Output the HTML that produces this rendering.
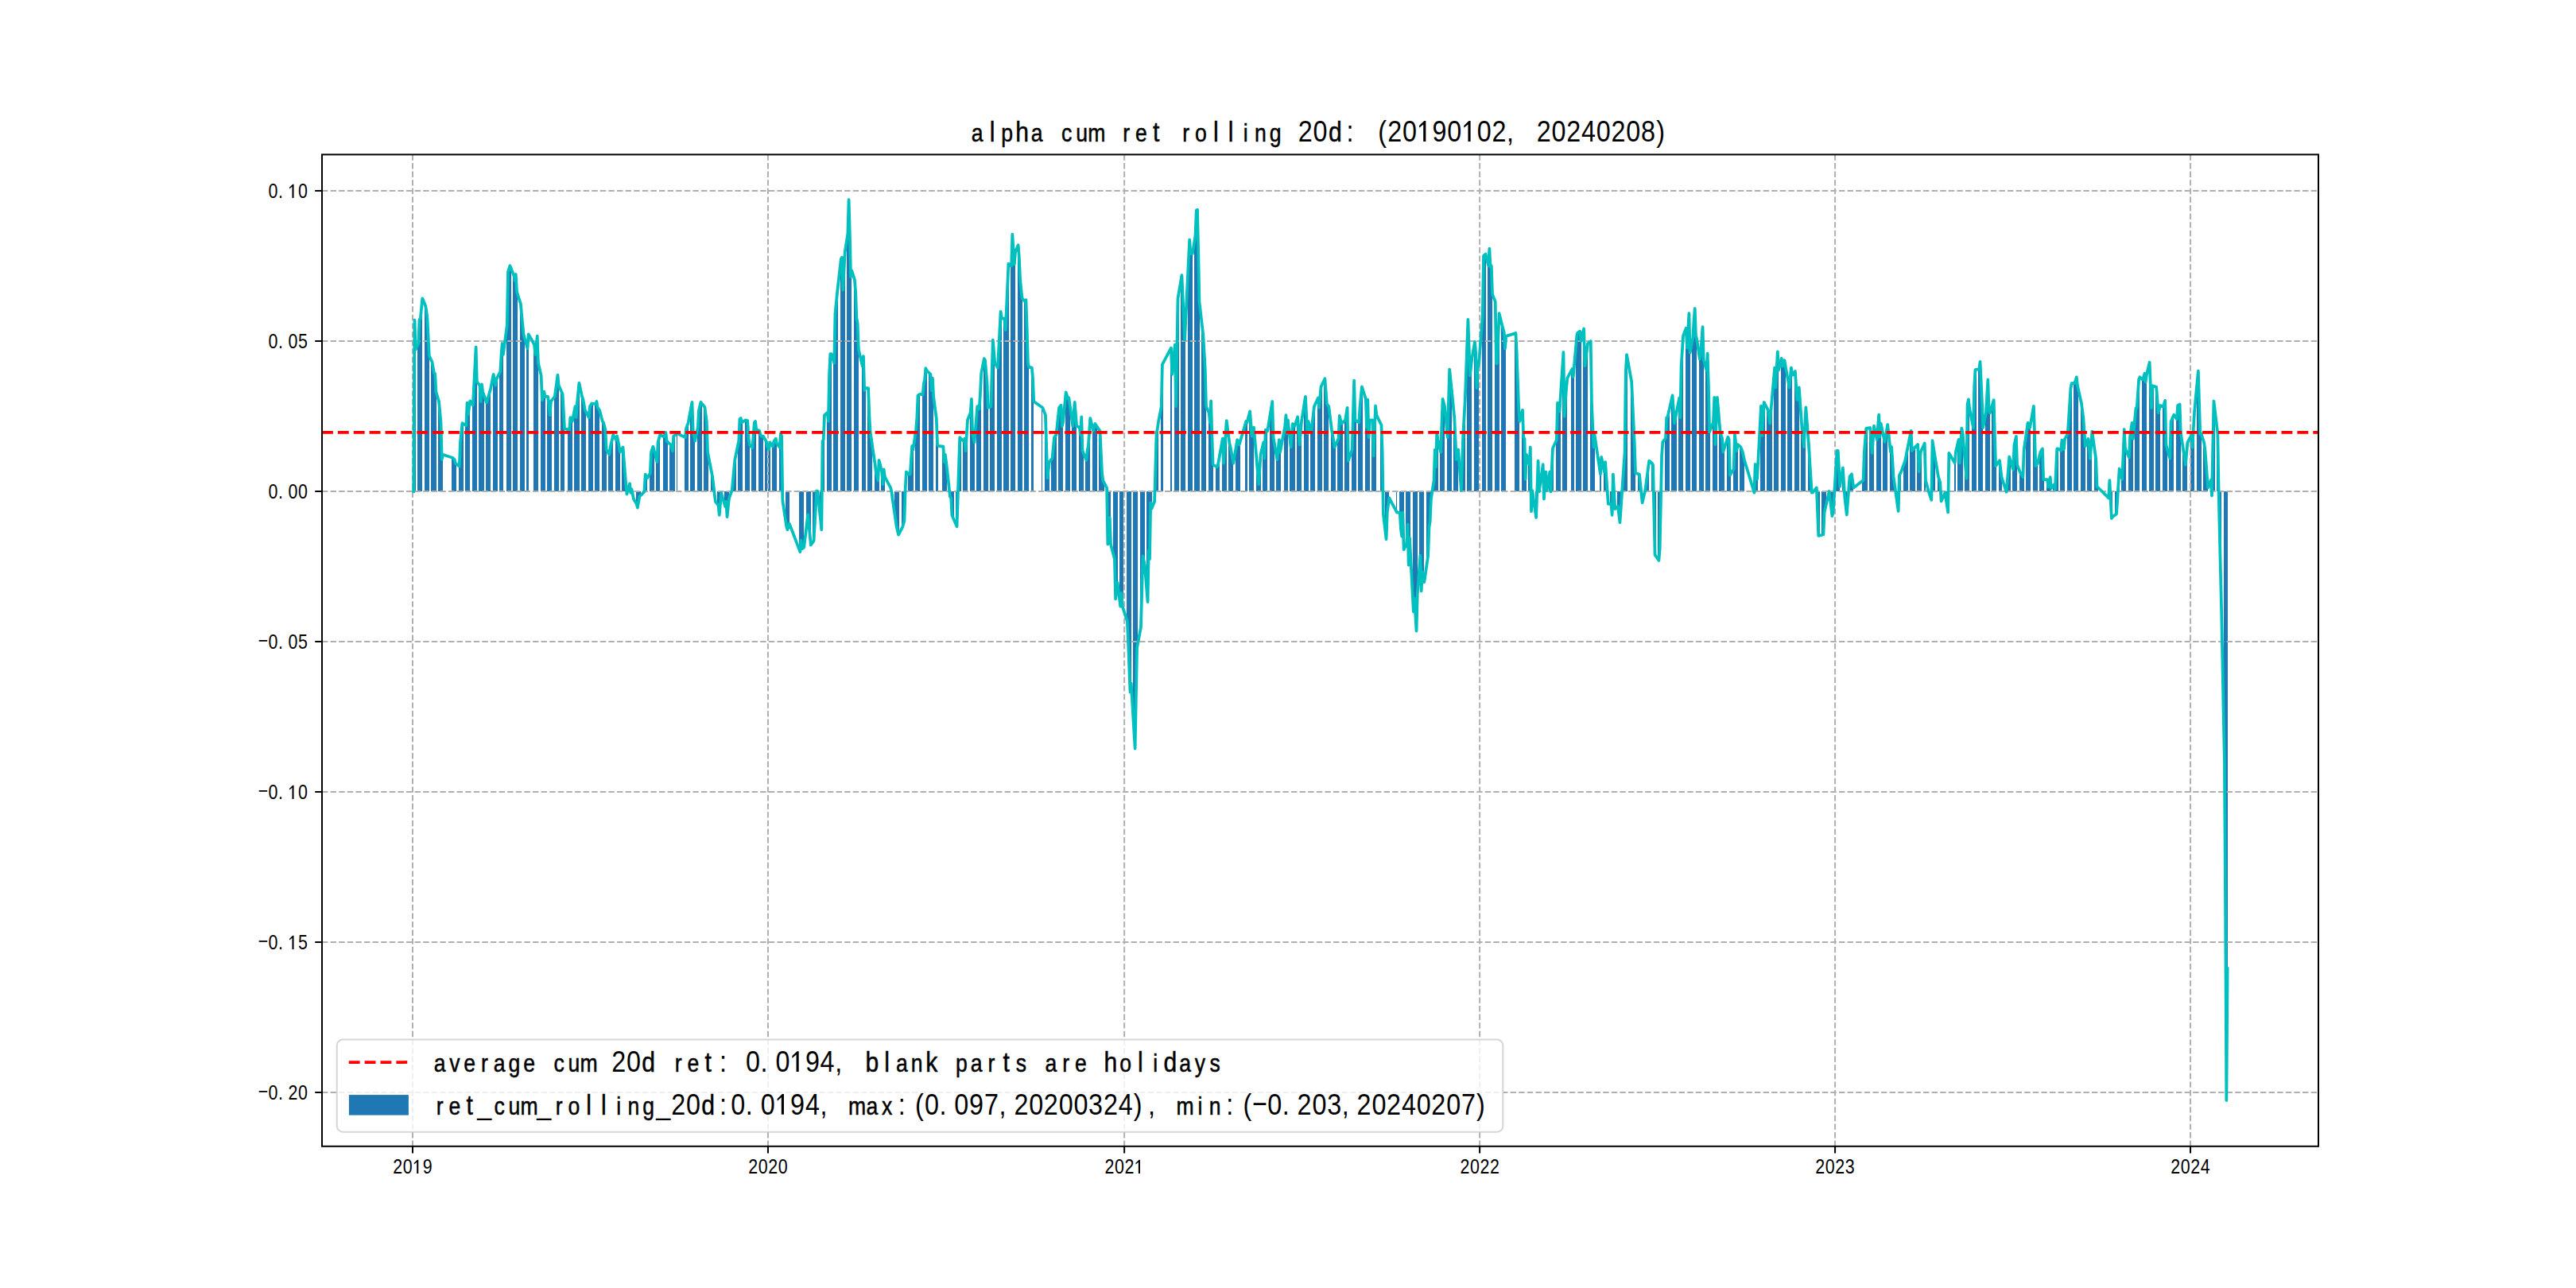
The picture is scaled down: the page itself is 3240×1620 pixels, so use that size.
<!DOCTYPE html><html><head><meta charset="utf-8"><style>html,body{margin:0;padding:0;background:#fff;overflow:hidden}svg{display:block}text{font-family:"Liberation Sans",sans-serif;fill:#000}</style></head><body>
<svg width="3240" height="1620" viewBox="0 0 3240 1620">
<rect width="3240" height="1620" fill="#fff"/>
<path d="M519 618.0V618.0H520.34V402.5H521.56V439.8H523V618.0ZM525 618.0V432.0H526.46V401.7H527.68V400.9H528.91V388.1H530.13V375.3H531V618.0ZM534 618.0V383.9H535.03V390.1H536.26V399.4H537.48V423.4H538.71V447.5H540V618.0ZM542 618.0V455.3H543.60V462.3H544.83V469.3H546.05V470.0H547.28V492.5H549V618.0ZM551 618.0V505.0H552.18V518.2H553.40V531.4H554.62V578.0H555.85V571.8H557V618.0ZM568 618.0V575.7H569.32V576.9H570.54V578.0H571.77V582.7H572.99V583.7H574V618.0ZM577 618.0V586.6H577.89V556.3H579.12V544.2H580.34V532.2H581.56V533.0H583V618.0ZM585 618.0V535.3H586.46V506.6H587.69V521.3H588.91V512.8H590.14V504.3H591V618.0ZM594 618.0V509.7H595.04V485.3H596.26V461.0H597.48V436.6H598.71V480.2H600V618.0ZM602 618.0V484.8H603.61V505.0H604.83V483.3H606.06V492.6H607.28V496.1H609V618.0ZM611 618.0V506.6H612.18V502.3H613.40V498.1H614.63V493.8H615.85V489.5H617V618.0ZM620 618.0V470.9H620.75V477.8H621.98V484.8H623.20V477.1H624.42V474.7H626V618.0ZM628 618.0V467.7H629.32V447.5H630.55V432.0H631.77V446.0H633V618.0ZM637 618.0V408.7H637.89V341.9H639.12V338.0H640.34V334.2H641.57V337.3H643V618.0ZM645 618.0V346.6H646.47V352.8H647.69V345.0H648.92V366.8H650.14V370.7H651V618.0ZM654 618.0V382.3H655.04V396.3H656.26V408.7H657.49V421.1H658.71V425.4H660V618.0ZM662 618.0V438.2H663.61V420.3H665V618.0ZM671 618.0V433.5H672.18V446.0H673.41V434.4H674.63V422.7H675.86V456.8H677V618.0ZM680 618.0V472.4H680.75V503.5H681.98V498.1H683.20V492.6H684.43V498.8H686V618.0ZM688 618.0V498.8H689.33V510.5H690.55V522.1H691.78V505.0H693.00V503.4H694V618.0ZM697 618.0V498.8H697.90V489.7H699.12V480.7H700.35V471.6H701.57V484.8H703V618.0ZM705 618.0V493.0H706.47V495.7H707.69V517.5H708.92V539.2H710V618.0ZM714 618.0V540.4H715.04V540.7H716.27V525.2H717.49V527.5H718.72V529.9H720V618.0ZM722 618.0V511.2H723.61V525.2H724.84V506.6H726.06V494.1H727.29V481.7H729V618.0ZM731 618.0V498.8H732.19V501.9H733.41V508.9H734.63V515.9H735.86V518.2H737V618.0ZM740 618.0V525.2H740.76V511.2H741.98V509.3H743.21V507.4H744.43V507.6H746V618.0ZM748 618.0V508.1H749.33V505.0H750.55V512.8H751.78V514.3H753.00V515.9H754V618.0ZM757 618.0V529.9H757.90V531.4H759.13V536.0H760.35V540.7H761.58V565.6H763V618.0ZM765 618.0V571.8H766.47V562.5H767.70V557.3H768.92V552.2H770.15V547.0H771V618.0ZM774 618.0V553.2H775.05V548.5H776.27V554.7H777.49V560.9H778.72V568.7H780V618.0ZM782 618.0V562.5H783.62V578.0H784.84V593.5H786.07V607.5H787.29V621.5H789V618.0ZM791 618.0V608.3H792.19V619.9H793.41V615.3H794.64V621.5H795.86V627.7H797V618.0ZM800 618.0V633.9H800.76V638.6H801.99V631.6H803.21V624.6H804.43V623.4H806V618.0ZM808 618.0V619.6H809.33V618.4H810.56V596.6H811.78V599.0H813.01V601.3H814V618.0ZM817 618.0V595.1H817.90V568.7H819.13V565.2H820.35V561.7H821.58V566.6H823V618.0ZM825 618.0V581.1H826.48V556.3H827.70V551.7H828.93V547.0H830V618.0ZM834 618.0V549.3H835.05V546.6H836.27V543.9H837.50V554.7H838.72V555.9H840V618.0ZM842 618.0V559.4H843.62V563.2H844.85V567.1H846.07V548.5H847.29V547.7H849V618.0ZM851 618.0V545.4H852V618.0ZM861 618.0V550.1H861.99V538.4H863.21V535.3H864.44V532.2H866V618.0ZM868 618.0V512.4H869.34V505.8H870.56V540.7H871.79V547.7H873.01V554.7H874V618.0ZM877 618.0V537.6H877.91V515.9H879.13V510.8H880.36V505.8H881.58V507.4H883V618.0ZM885 618.0V512.0H886.48V521.0H887.70V529.9H888.93V568.7H890.15V574.9H891V618.0ZM894 618.0V593.6H895.05V599.8H896.28V610.1H897.50V620.5H898.73V630.8H900V618.0ZM902 618.0V635.5H903.62V647.9H904.85V633.9H906.07V620.0H907.30V624.3H909V618.0ZM911 618.0V637.0H912.20V630.8H913.42V650.2H914.65V638.6H915.87V626.9H917V618.0ZM920 618.0V616.8H920.77V603.9H921.99V590.9H923.22V578.0H924.44V572.2H926V618.0ZM928 618.0V554.7H929.34V526.8H930.56V526.0H931.79V531.4H933.01V530.6H934V618.0ZM937 618.0V528.3H937.91V528.7H939.14V529.1H940.36V550.1H941.59V559.4H943V618.0ZM945 618.0V563.3H946.48V547.4H947.71V531.4H948.93V529.9H950.16V540.7H951V618.0ZM954 618.0V541.5H955.06V545.0H956.28V548.5H957.50V548.5H958.73V548.5H960V618.0ZM962 618.0V554.7H963.63V560.9H965V618.0ZM966 618.0V565.6H967.30V556.3H969V618.0ZM971 618.0V561.7H972.20V555.5H973.42V553.5H974.65V551.6H975.87V557.8H977V618.0ZM980 618.0V562.5H980.77V545.4H982.00V548.5H983.22V629.6H984.45V637.8H986V618.0ZM988 618.0V662.2H989.34V666.3H990.57V662.5H991.79V658.7H993V618.0ZM1005 618.0V694.2H1006.49V679.7H1007.71V690.2H1008.94V689.3H1010.16V688.4H1011V618.0ZM1014 618.0V657.4H1015.06V647.1H1016.28V659.9H1017.51V672.7H1018.73V685.5H1020V618.0ZM1022 618.0V680.3H1023.63V659.3H1024.86V638.4H1026.08V617.4H1027.30V618.0H1029V618.0ZM1031 618.0V654.2H1032.20V666.3H1033.43V554.7H1034.65V553.2H1035.88V522.1H1037V618.0ZM1040 618.0V519.0H1040.77V529.9H1042.00V470.0H1043.22V445.1H1044.45V445.1H1046V618.0ZM1048 618.0V456.8H1049.35V394.7H1050.57V382.0H1051.80V369.4H1053.02V358.5H1054V618.0ZM1057 618.0V325.8H1057.92V323.8H1059.14V364.6H1060.37V340.8H1061.59V317.0H1063V618.0ZM1065 618.0V293.7H1066.49V251.1H1067.72V293.7H1068.94V348.1H1070.16V340.3H1071V618.0ZM1074 618.0V352.0H1075.06V367.5H1076.29V400.5H1077.51V406.3H1078.74V439.3H1080V618.0ZM1084 618.0V460.7H1084.86V448.0H1086.08V491.1H1087.31V488.0H1089V618.0ZM1091 618.0V488.0H1092.21V522.1H1093.43V542.3H1094.66V550.9H1095.88V559.4H1097V618.0ZM1100 618.0V584.2H1100.78V595.1H1102.00V599.7H1103.23V604.4H1104.45V578.8H1106V618.0ZM1108 618.0V593.5H1109.35V609.1H1110.57V590.4H1111.80V599.8H1113V618.0ZM1119 618.0V613.7H1120.37V619.1H1121.60V628.4H1123V618.0ZM1125 618.0V653.8H1126.49V662.2H1127.72V667.4H1128.94V672.7H1130.17V670.4H1131V618.0ZM1134 618.0V663.4H1135.07V659.3H1136.29V655.2H1137.52V616.8H1138.74V593.5H1140V618.0ZM1142 618.0V596.6H1143.64V596.6H1144.86V578.7H1146.09V560.9H1147.31V565.6H1149V618.0ZM1151 618.0V540.7H1152.21V525.2H1153.43V497.3H1154.66V496.5H1155.88V495.7H1157V618.0ZM1160 618.0V496.5H1160.78V482.5H1162.01V477.1H1163.23V463.1H1164.46V466.2H1166V618.0ZM1168 618.0V469.7H1169.35V470.9H1170.58V491.1H1171.80V475.5H1173.03V498.8H1174V618.0ZM1177 618.0V526.8H1177.93V559.4H1179.15V560.9H1180V618.0ZM1185 618.0V561.7H1186.50V581.1H1187.72V571.8H1188.95V581.1H1190.17V591.2H1191V618.0ZM1194 618.0V624.9H1195.07V626.1H1196.29V648.2H1197.52V651.0H1198.74V653.8H1200V618.0ZM1202 618.0V662.2H1203.64V624.9H1204.87V587.5H1206.09V550.1H1207.32V551.6H1209V618.0ZM1211 618.0V554.7H1212.21V551.6H1213.44V567.1H1214.66V547.7H1215.89V528.3H1217V618.0ZM1220 618.0V519.0H1220.79V501.9H1222.01V545.4H1223.23V550.8H1224.46V556.3H1226V618.0ZM1228 618.0V511.2H1229.36V512.8H1230.58V514.3H1231.81V495.7H1233.03V470.0H1234V618.0ZM1237 618.0V451.0H1237.93V452.9H1239.15V467.4H1240.38V482.0H1241.60V512.8H1243V618.0ZM1245 618.0V511.2H1246.50V469.4H1247.73V427.7H1248.95V442.2H1250.17V456.8H1251V618.0ZM1254 618.0V462.6H1255.07V439.0H1256.30V415.4H1257.52V391.8H1258.75V400.5H1260V618.0ZM1262 618.0V400.5H1263.64V415.0H1264.87V387.2H1266.09V359.4H1267.32V331.6H1269V618.0ZM1271 618.0V334.5H1272.22V294.7H1273.44V313.6H1274.67V332.6H1275.89V317.0H1277V618.0ZM1280 618.0V308.3H1280.79V324.8H1282.01V352.0H1283.24V363.6H1284.46V375.3H1286V618.0ZM1288 618.0V379.1H1289.36V377.2H1290.59V414.1H1291.81V456.8H1293.03V461.6H1294V618.0ZM1297 618.0V462.6H1297.93V475.5H1299.16V505.0H1300V618.0ZM1310 618.0V512.8H1311V618.0ZM1314 618.0V522.1H1315.08V561.7H1316.30V601.3H1317.53V591.2H1318.75V581.1H1320V618.0ZM1322 618.0V576.5H1323.65V563.3H1324.87V550.1H1326.10V548.5H1327.32V547.0H1329V618.0ZM1331 618.0V512.8H1332.22V511.3H1333.44V509.7H1334.67V536.1H1335.89V531.4H1337V618.0ZM1340 618.0V493.4H1340.79V497.2H1342.02V501.1H1343.24V500.4H1344.47V509.3H1346V618.0ZM1348 618.0V536.1H1349.36V521.0H1350.59V505.8H1351.81V521.0H1353.04V536.1H1354V618.0ZM1357 618.0V537.6H1357.94V547.0H1359.16V524.4H1360.38V567.1H1361.61V570.0H1363V618.0ZM1365 618.0V578.8H1366.51V567.1H1367.73V560.9H1368.96V543.5H1370.18V526.0H1371V618.0ZM1374 618.0V541.5H1375.08V537.2H1376.30V533.0H1377.53V534.9H1378.75V536.7H1380V618.0ZM1382 618.0V542.3H1383.65V568.7H1384.88V593.5H1386.10V604.4H1387.33V606.7H1389V618.0ZM1391 618.0V613.7H1392.22V684.5H1393.45V667.8H1394.67V651.0H1395.90V684.5H1397V618.0ZM1400 618.0V698.4H1400.80V703.1H1402.02V753.4H1403.24V743.1H1404.47V732.9H1406V618.0ZM1408 618.0V762.7H1409.37V745.9H1410.59V762.7H1411.82V766.4H1413V618.0ZM1417 618.0V781.3H1417.94V807.4H1419.16V839.0H1420.39V870.7H1421.61V859.5H1423V618.0ZM1425 618.0V921.0H1426.51V941.5H1427.74V878.1H1428.96V814.8H1430.18V808.3H1431V618.0ZM1434 618.0V788.8H1435.08V744.1H1436.31V699.4H1437.53V705.0H1438.76V710.6H1440V618.0ZM1442 618.0V757.1H1443.66V691.9H1444.88V703.1H1446.10V632.3H1447.33V639.8H1449V618.0ZM1451 618.0V630.8H1452.23V588.1H1453.45V545.4H1454.68V539.2H1455.90V530.4H1457V618.0ZM1460 618.0V511.8H1460.80V458.4H1462.02V456.1H1463V618.0ZM1472 618.0V437.6H1473.04V470.8H1474V618.0ZM1477 618.0V433.5H1477.94V511.2H1479.17V443.2H1480.39V375.3H1481.62V368.0H1483V618.0ZM1485 618.0V346.2H1486.51V373.4H1487.74V400.5H1488.96V427.7H1490.19V402.5H1491V618.0ZM1494 618.0V326.7H1495.09V301.5H1496.31V319.0H1497.54V319.0H1498.76V319.0H1500V618.0ZM1502 618.0V295.7H1503.66V264.6H1504.88V263.7H1506.11V317.0H1507.33V379.1H1509V618.0ZM1511 618.0V411.1H1512.23V421.8H1513.46V443.3H1514.68V464.7H1515.90V511.2H1517V618.0ZM1520 618.0V519.3H1520.80V531.7H1522.03V504.3H1523.25V547.0H1524.48V584.2H1526V618.0ZM1529 618.0V587.3H1530.60V585.8H1531.82V579.0H1533.05V572.1H1534V618.0ZM1537 618.0V551.6H1537.95V582.7H1539.17V564.8H1540.40V547.0H1541.62V529.1H1543V618.0ZM1545 618.0V557.8H1546.52V562.5H1547.74V569.2H1548.97V576.0H1550.19V582.7H1551V618.0ZM1554 618.0V560.6H1555.09V553.2H1556.31V556.3H1557.54V559.4H1558.76V555.2H1560V618.0ZM1566 618.0V529.9H1567.34V531.4H1569V618.0ZM1571 618.0V517.5H1572.23V533.0H1573.46V548.5H1574.68V543.1H1575.91V537.6H1577V618.0ZM1580 618.0V579.6H1580.81V594.4H1582.03V609.1H1583.25V590.4H1584.48V571.8H1586V618.0ZM1588 618.0V556.3H1589.38V576.5H1590.60V540.7H1591.83V541.5H1593.05V542.3H1594V618.0ZM1597 618.0V519.9H1597.95V512.5H1599.17V505.0H1600.40V550.1H1601.62V557.1H1603V618.0ZM1605 618.0V578.0H1606.52V565.6H1607.75V553.2H1608.97V568.7H1610.20V562.2H1611V618.0ZM1615 618.0V536.1H1616.32V522.1H1617.54V545.4H1618.77V528.3H1620V618.0ZM1622 618.0V562.5H1623.67V547.7H1624.89V533.0H1626.11V534.6H1627.34V536.1H1629V618.0ZM1631 618.0V524.4H1632.24V541.9H1633.46V559.4H1634.69V544.7H1635.91V529.9H1637V618.0ZM1640 618.0V506.6H1640.81V498.8H1642.03V522.1H1643.26V545.4H1644.48V529.9H1646V618.0ZM1648 618.0V543.9H1649.38V533.0H1650.61V522.1H1651.83V511.2H1653.05V508.5H1654V618.0ZM1657 618.0V500.4H1657.95V512.8H1659.18V499.6H1660.40V486.4H1661.63V483.9H1663V618.0ZM1665 618.0V476.3H1666.53V492.2H1667.75V508.1H1668.97V509.7H1670.20V511.2H1671V618.0ZM1674 618.0V540.7H1675.10V548.0H1676.32V555.2H1677.55V562.5H1678.77V559.8H1680V618.0ZM1682 618.0V551.6H1683.67V522.9H1684.89V527.9H1686.12V533.0H1687.34V531.8H1689V618.0ZM1691 618.0V528.3H1692.24V520.5H1693.47V512.8H1694.69V579.6H1695.91V576.1H1697V618.0ZM1700 618.0V565.6H1700.81V522.1H1702.04V478.6H1703.26V528.3H1704.49V529.1H1706V618.0ZM1708 618.0V531.4H1709.38V511.2H1710.61V498.8H1711.83V486.4H1713.06V490.3H1714V618.0ZM1717 618.0V501.9H1717.96V537.6H1719.18V502.7H1720.41V550.1H1721.63V528.3H1723V618.0ZM1725 618.0V528.3H1726.53V573.4H1727.75V542.0H1728.98V510.5H1730.20V522.1H1731V618.0ZM1736 618.0V534.5H1737.55V568.7H1738.77V646.6H1740V618.0ZM1742 618.0V678.2H1743.67V644.7H1744.90V635.4H1746.12V626.1H1747V618.0ZM1756 618.0V644.7H1757V618.0ZM1760 618.0V644.7H1760.82V665.2H1762.04V674.5H1763.27V644.7H1764.49V691.3H1766V618.0ZM1768 618.0V683.8H1769.39V659.6H1770.61V710.8H1771.84V676.4H1773.06V699.7H1774V618.0ZM1777 618.0V769.5H1777.96V752.7H1779.18V773.2H1780.41V793.7H1781.63V747.1H1783V618.0ZM1785 618.0V698.7H1786.53V743.4H1787.76V719.2H1788.98V725.7H1790.21V732.2H1791V618.0ZM1794 618.0V707.1H1795.10V698.7H1796.33V663.3H1797.55V655.9H1798.78V627.9H1800V618.0ZM1802 618.0V604.4H1803.68V565.6H1804.90V587.3H1806.12V543.9H1807.35V553.2H1809V618.0ZM1811 618.0V568.7H1812.25V535.3H1813.47V501.9H1814.70V506.5H1815.92V511.2H1817V618.0ZM1820 618.0V550.1H1820.82V507.3H1822.04V464.5H1823.27V476.3H1824.49V488.0H1826V618.0ZM1828 618.0V525.2H1829.39V551.6H1830.62V578.0H1831.84V571.8H1833.07V565.6H1834V618.0ZM1837 618.0V616.8H1837.96V581.9H1839.19V547.0H1840.41V525.2H1841.64V503.5H1843V618.0ZM1845 618.0V401.9H1846.54V437.2H1847.76V472.5H1848.98V461.7H1850.21V450.8H1851V618.0ZM1854 618.0V429.8H1855.11V445.0H1856.33V488.0H1857.56V455.0H1858.78V460.1H1860V618.0ZM1864 618.0V396.5H1864.90V321.9H1866.13V320.7H1867.35V319.6H1869V618.0ZM1871 618.0V334.3H1872.25V312.6H1873.48V335.9H1874.70V334.3H1875.92V370.1H1877V618.0ZM1880 618.0V379.4H1880.82V457.0H1882.05V457.0H1883.27V425.5H1884.50V394.1H1886V618.0ZM1888 618.0V408.9H1889.39V413.5H1890.62V418.2H1891.84V438.4H1893.07V422.9H1894V618.0ZM1905 618.0V419.0H1906.54V443.0H1907.76V477.1H1908.99V511.2H1910.21V529.9H1911V618.0ZM1914 618.0V515.9H1915.11V550.1H1916.34V551.6H1917.56V602.9H1918.78V571.8H1920V618.0ZM1922 618.0V584.2H1923.68V562.5H1924.91V643.2H1926.13V616.8H1927.36V625.3H1929V618.0ZM1931 618.0V651.0H1932.25V615.3H1933.48V579.6H1934.70V618.4H1935.93V609.8H1937V618.0ZM1940 618.0V584.2H1940.83V627.7H1942.05V610.6H1943.28V593.5H1944.50V616.8H1946V618.0ZM1948 618.0V593.5H1949.40V618.4H1950.62V591.2H1951.85V564.0H1953.07V561.3H1954V618.0ZM1957 618.0V553.2H1957.97V506.6H1959.19V512.1H1960.42V517.5H1961.64V498.9H1963V618.0ZM1965 618.0V443.0H1966.54V523.7H1967.77V505.9H1968.99V488.0H1970.22V475.7H1971V618.0ZM1976 618.0V464.0H1977.56V474.1H1978.79V460.5H1980V618.0ZM1982 618.0V419.8H1983.69V418.2H1984.91V417.4H1986.14V416.6H1987.36V429.1H1989V618.0ZM1991 618.0V413.5H1992.26V460.1H1993.48V450.8H1994.71V441.5H1995.93V432.2H1997V618.0ZM2000 618.0V429.1H2000.83V506.6H2002.05V534.6H2003.28V562.5H2004.50V547.0H2006V618.0ZM2012 618.0V596.6H2013.08V574.9H2014V618.0ZM2017 618.0V593.5H2017.97V581.1H2019.20V598.7H2020.42V616.3H2021.65V633.9H2023V618.0ZM2025 618.0V633.9H2026.55V647.9H2027.77V596.6H2028.99V618.3H2030.22V640.1H2031V618.0ZM2034 618.0V637.0H2035.12V647.1H2036.34V657.2H2037.57V639.5H2038.79V621.8H2040V618.0ZM2042 618.0V568.7H2043.69V467.8H2044.91V446.1H2046.14V452.9H2047V618.0ZM2051 618.0V480.0H2052.26V506.5H2053.49V532.9H2054.71V559.4H2055.94V595.1H2057V618.0ZM2060 618.0V596.2H2060.83V596.6H2062.06V608.5H2063.28V620.5H2064.51V632.4H2066V618.0ZM2068 618.0V616.8H2069.41V607.5H2070.63V598.2H2071.85V588.9H2073.08V579.6H2074V618.0ZM2077 618.0V582.7H2077.98V585.0H2079.20V641.5H2080.43V698.0H2081.65V699.7H2083V618.0ZM2085 618.0V704.9H2086.55V690.0H2087.77V632.0H2089.00V573.0H2090.22V555.9H2091V618.0ZM2094 618.0V551.0H2095.12V525.4H2096.35V524.6H2097.57V519.2H2098.79V513.7H2100V618.0ZM2102 618.0V497.4H2103.69V514.9H2104.92V532.4H2106.14V526.0H2107.37V519.6H2109V618.0ZM2111 618.0V500.5H2112.26V525.4H2113.49V460.9H2114.71V441.5H2115.94V422.1H2117V618.0ZM2120 618.0V412.8H2120.84V437.6H2122.06V415.9H2123.29V394.2H2124.51V443.9H2126V618.0ZM2128 618.0V425.2H2129.41V403.5H2130.63V388.0H2131.86V422.1H2133.08V426.8H2134V618.0ZM2137 618.0V451.6H2137.98V443.9H2139.21V427.6H2140.43V411.2H2141.65V453.2H2143V618.0ZM2145 618.0V465.6H2146.55V444.6H2147.78V484.2H2149.00V543.2H2150.23V540.1H2151V618.0ZM2154 618.0V530.8H2155.12V499.8H2156.35V559.0H2157.57V529.4H2158.80V499.8H2160V618.0ZM2162 618.0V543.5H2163.70V547.3H2164.92V551.0H2166.15V568.3H2167.37V564.6H2169V618.0ZM2172 618.0V549.7H2173.49V552.8H2174.72V597.8H2175.94V595.9H2177V618.0ZM2180 618.0V590.1H2180.84V546.6H2182.06V556.7H2183.29V566.8H2184.51V559.0H2186V618.0ZM2188 618.0V562.1H2189.41V565.2H2190.64V568.3H2191.86V573.8H2193.09V579.2H2194V618.0ZM2205 618.0V619.6H2206.56V583.9H2207.78V593.2H2209.01V602.5H2210.23V579.5H2211V618.0ZM2214 618.0V510.6H2215.13V547.9H2216.35V527.0H2217.58V506.0H2218.80V508.3H2220V618.0ZM2222 618.0V515.3H2223.70V523.8H2224.92V532.4H2226.15V518.4H2227.37V504.4H2229V618.0ZM2231 618.0V462.5H2232.27V487.3H2233.50V464.8H2234.72V442.3H2235.95V465.6H2237V618.0ZM2240 618.0V450.8H2240.84V460.9H2242.07V457.1H2243.29V453.2H2244.52V460.0H2246V618.0ZM2248 618.0V480.5H2249.42V487.3H2250.64V474.9H2251.86V462.5H2253.09V471.8H2254V618.0ZM2257 618.0V467.1H2257.99V485.0H2259.21V502.9H2260.44V495.1H2261.66V487.3H2263V618.0ZM2265 618.0V538.6H2266.56V550.4H2267.78V562.1H2269.01V537.2H2270.23V512.3H2271V618.0ZM2274 618.0V560.0H2275.13V579.9H2276.36V599.7H2277.58V619.6H2278.81V619.6H2280V618.0ZM2282 618.0V614.9H2283.70V613.4H2284.93V643.6H2286.15V673.9H2287.38V673.6H2289V618.0ZM2291 618.0V672.7H2292.28V672.4H2293.50V644.4H2294.72V639.1H2295.95V633.8H2297V618.0ZM2300 618.0V618.0H2300.85V628.4H2302.07V638.7H2303.30V649.1H2304.52V644.4H2306V618.0ZM2309 618.0V566.8H2310.64V566.8H2311.87V589.3H2313.09V611.8H2314V618.0ZM2317 618.0V588.5H2317.99V607.2H2319.22V625.8H2320.44V636.6H2321.66V647.5H2323V618.0ZM2325 618.0V599.4H2326.56V597.9H2327.79V596.3H2329.01V604.8H2330.24V613.4H2331V618.0ZM2342 618.0V604.0H2343.71V568.3H2344.93V553.5H2346.16V538.8H2347.38V538.6H2349V618.0ZM2351 618.0V538.0H2352.28V553.9H2353.50V569.9H2354.73V552.8H2355.95V535.7H2357V618.0ZM2360 618.0V552.8H2360.85V537.2H2362.08V521.6H2363.30V549.7H2364.52V532.5H2366V618.0ZM2368 618.0V550.0H2369.42V555.9H2370.65V548.6H2371.87V541.3H2373.10V534.0H2374V618.0ZM2377 618.0V568.3H2377.99V562.1H2379.22V580.8H2380.44V599.4H2381.67V608.1H2383V618.0ZM2385 618.0V634.2H2386.57V642.9H2387.79V597.8H2389.02V595.5H2390.24V593.2H2391V618.0ZM2394 618.0V582.7H2395.14V579.2H2396.36V573.0H2397.59V566.7H2398.81V560.5H2400V618.0ZM2402 618.0V541.8H2403.71V566.8H2404.93V565.5H2406.16V564.2H2407.38V562.9H2409V618.0ZM2411 618.0V559.0H2412.28V593.2H2413.51V580.8H2414.73V568.3H2415.96V565.6H2417V618.0ZM2420 618.0V557.5H2420.85V604.0H2422V618.0ZM2423 618.0V613.3H2424.53V618.0H2426V618.0ZM2428 618.0V628.9H2429.43V554.2H2430.65V562.0H2431.88V569.9H2433.10V577.3H2434V618.0ZM2437 618.0V599.4H2438.00V603.3H2439.22V607.1H2440.45V630.4H2441.67V627.7H2443V618.0ZM2445 618.0V619.6H2446.57V627.9H2447.79V636.1H2449.02V644.4H2450.24V569.9H2451V618.0ZM2458 618.0V582.3H2458.82V568.3H2460V618.0ZM2462 618.0V552.8H2463.71V582.3H2464.94V560.5H2466.16V538.7H2467.39V544.2H2469V618.0ZM2471 618.0V587.3H2472.29V601.7H2473.51V508.5H2474.73V502.3H2475.96V513.2H2477V618.0ZM2480 618.0V531.8H2480.86V538.0H2482.08V486.8H2483.31V465.0H2484.53V464.8H2486V618.0ZM2488 618.0V464.3H2489.43V454.9H2490.65V480.9H2491.88V507.0H2493.10V538.0H2494V618.0ZM2497 618.0V519.4H2498.00V498.5H2499.23V477.5H2500.45V516.3H2501.67V519.4H2503V618.0ZM2505 618.0V507.2H2506.57V503.1H2507.80V547.3H2509.02V586.1H2510.25V584.4H2511V618.0ZM2514 618.0V579.2H2515.15V589.7H2516.37V600.1H2518V618.0ZM2522 618.0V618.8H2523.72V604.0H2524.94V589.3H2526.17V574.5H2527.39V578.6H2529V618.0ZM2531 618.0V590.8H2532.29V559.8H2533.51V554.4H2534.74V548.9H2535.96V584.6H2537V618.0ZM2540 618.0V593.9H2540.86V596.0H2542.09V598.0H2543.31V600.1H2544.53V566.0H2546V618.0ZM2548 618.0V540.3H2549.43V531.8H2550.66V534.9H2551.88V538.0H2553.11V531.8H2554V618.0ZM2557 618.0V510.8H2558.00V548.5H2559.23V586.1H2560.45V584.5H2561.68V583.0H2563V618.0ZM2565 618.0V568.3H2566.58V566.3H2567.80V564.4H2569.03V603.2H2570.25V603.2H2571V618.0ZM2574 618.0V603.2H2575.15V612.5H2576.37V606.3H2577.60V600.1H2578.82V614.1H2580V618.0ZM2582 618.0V609.4H2583.72V615.7H2584.95V590.1H2586.17V564.4H2587.39V564.4H2589V618.0ZM2591 618.0V566.7H2592.29V553.5H2593.52V559.4H2594.74V565.2H2595.97V552.0H2597V618.0ZM2600 618.0V545.8H2600.86V526.6H2602.09V507.5H2603.31V488.3H2604.54V482.1H2606V618.0ZM2608 618.0V482.1H2609.44V478.2H2610.66V474.3H2611.89V485.2H2613.11V490.7H2614V618.0ZM2617 618.0V507.0H2618.01V516.3H2619.23V525.6H2620.46V543.4H2621.68V561.3H2623V618.0ZM2625 618.0V552.0H2626.58V564.4H2627.80V576.8H2629.03V559.7H2630.25V542.7H2631V618.0ZM2634 618.0V569.1H2635.15V578.0H2636.38V612.0H2637.60V613.0H2639V618.0ZM2651 618.0V626.4H2652.30V604.1H2653.52V628.0H2654.74V652.0H2655.97V650.0H2657V618.0ZM2660 618.0V647.4H2660.87V646.5H2662.09V629.0H2663.32V609.2H2664.54V589.5H2666V618.0ZM2668 618.0V603.0H2669.44V571.5H2670.66V540.0H2671.89V564.4H2673.11V567.1H2674V618.0ZM2677 618.0V575.3H2678.01V548.9H2679.24V540.3H2680.46V531.8H2681.69V552.0H2683V618.0ZM2685 618.0V513.2H2686.58V513.2H2687.81V495.4H2689.03V477.5H2690.26V474.3H2691V618.0ZM2694 618.0V477.5H2695.16V473.6H2696.38V469.7H2697.60V480.6H2698.83V471.2H2700V618.0ZM2703 618.0V455.7H2703.73V484.5H2704.95V513.2H2706.18V485.2H2707.40V485.6H2709V618.0ZM2711 618.0V486.8H2712.30V503.1H2713.52V519.4H2714.75V514.7H2715.97V510.1H2717V618.0ZM2720 618.0V511.6H2720.87V507.8H2722.10V503.9H2723.32V559.8H2724.54V564.1H2726V618.0ZM2728 618.0V576.8H2729.44V530.2H2730.67V527.4H2731.89V524.5H2733.12V521.7H2734V618.0ZM2737 618.0V527.1H2738.02V510.1H2739.24V509.3H2740.46V508.5H2741.69V544.2H2743V618.0ZM2745 618.0V568.4H2746.59V576.5H2747.81V584.6H2749.04V570.6H2750.26V556.6H2751V618.0ZM2755 618.0V547.3H2756.38V562.9H2757.61V541.1H2758.83V519.4H2760V618.0ZM2763 618.0V479.8H2763.73V466.6H2764.96V506.2H2766.18V545.8H2767.40V545.2H2769V618.0ZM2771 618.0V556.6H2772.30V566.0H2773.53V581.9H2774.75V597.8H2775.98V613.7H2777V618.0ZM2780 618.0V603.9H2780.87V623.5H2782.10V564.0H2783.32V504.5H2784.55V514.7H2786V618.0ZM2788 618.0V545.2H2789.45V617.0H2790.67V670.0H2791.90V722.0H2793.12V773.0H2794V618.0ZM2797 618.0V960.0H2798.02V1150.0H2799.24V1384.0H2800.47V1218.0H2802V618.0Z" fill="#1f77b4"/>
<path d="M519.00 194.4V1441.8 M965.96 194.4V1441.8 M1414.15 194.4V1441.8 M1861.12 194.4V1441.8 M2308.08 194.4V1441.8 M2755.05 194.4V1441.8" stroke="#b0b0b0" stroke-width="2" stroke-dasharray="7.4 3.2" fill="none"/>
<path d="M405.0 240.00H2916.0 M405.0 429.00H2916.0 M405.0 618.00H2916.0 M405.0 807.00H2916.0 M405.0 996.00H2916.0 M405.0 1185.00H2916.0 M405.0 1374.00H2916.0" stroke="#b0b0b0" stroke-width="2" stroke-dasharray="7.4 3.2" fill="none"/>
<path d="M520.22 618.0 L521.45 402.5 L522.67 439.8 L526.35 432.0 L527.57 401.7 L528.80 400.9 L530.02 388.1 L531.25 375.3 L534.92 383.9 L536.14 390.1 L537.37 399.4 L538.59 423.4 L539.82 447.5 L543.49 455.3 L544.72 462.3 L545.94 469.3 L547.16 470.0 L548.39 492.5 L552.06 505.0 L553.29 518.2 L554.51 531.4 L555.74 578.0 L556.96 571.8 L569.21 575.7 L570.43 576.9 L571.66 578.0 L572.88 582.7 L574.11 583.7 L577.78 586.6 L579.00 556.3 L580.23 544.2 L581.45 532.2 L582.68 533.0 L586.35 535.3 L587.58 506.6 L588.80 521.3 L590.02 512.8 L591.25 504.3 L594.92 509.7 L596.15 485.3 L597.37 461.0 L598.60 436.6 L599.82 480.2 L603.49 484.8 L604.72 505.0 L605.94 483.3 L607.17 492.6 L608.39 496.1 L612.07 506.6 L613.29 502.3 L614.52 498.1 L615.74 493.8 L616.96 489.5 L620.64 470.9 L621.86 477.8 L623.09 484.8 L624.31 477.1 L625.54 474.7 L629.21 467.7 L630.43 447.5 L631.66 432.0 L632.88 446.0 L637.78 408.7 L639.01 341.9 L640.23 338.0 L641.46 334.2 L642.68 337.3 L646.35 346.6 L647.58 352.8 L648.80 345.0 L650.03 366.8 L651.25 370.7 L654.93 382.3 L656.15 396.3 L657.38 408.7 L658.60 421.1 L659.82 425.4 L663.50 438.2 L664.72 420.3 L672.07 433.5 L673.29 446.0 L674.52 434.4 L675.74 422.7 L676.97 456.8 L680.64 472.4 L681.87 503.5 L683.09 498.1 L684.32 492.6 L685.54 498.8 L689.21 498.8 L690.44 510.5 L691.66 522.1 L692.89 505.0 L694.11 503.4 L697.79 498.8 L699.01 489.7 L700.23 480.7 L701.46 471.6 L702.68 484.8 L706.36 493.0 L707.58 495.7 L708.81 517.5 L710.03 539.2 L714.93 540.4 L716.15 540.7 L717.38 525.2 L718.60 527.5 L719.83 529.9 L723.50 511.2 L724.73 525.2 L725.95 506.6 L727.18 494.1 L728.40 481.7 L732.07 498.8 L733.30 501.9 L734.52 508.9 L735.75 515.9 L736.97 518.2 L740.65 525.2 L741.87 511.2 L743.09 509.3 L744.32 507.4 L745.54 507.6 L749.22 508.1 L750.44 505.0 L751.67 512.8 L752.89 514.3 L754.12 515.9 L757.79 529.9 L759.01 531.4 L760.24 536.0 L761.46 540.7 L762.69 565.6 L766.36 571.8 L767.59 562.5 L768.81 557.3 L770.03 552.2 L771.26 547.0 L774.93 553.2 L776.16 548.5 L777.38 554.7 L778.61 560.9 L779.83 568.7 L783.50 562.5 L784.73 578.0 L785.95 593.5 L787.18 607.5 L788.40 621.5 L792.08 608.3 L793.30 619.9 L794.53 615.3 L795.75 621.5 L796.98 627.7 L800.65 633.9 L801.87 638.6 L803.10 631.6 L804.32 624.6 L805.55 623.4 L809.22 619.6 L810.45 618.4 L811.67 596.6 L812.89 599.0 L814.12 601.3 L817.79 595.1 L819.02 568.7 L820.24 565.2 L821.47 561.7 L822.69 566.6 L826.36 581.1 L827.59 556.3 L828.81 551.7 L830.04 547.0 L834.94 549.3 L836.16 546.6 L837.39 543.9 L838.61 554.7 L839.83 555.9 L843.51 559.4 L844.73 563.2 L845.96 567.1 L847.18 548.5 L848.41 547.7 L852.08 545.4 L861.88 550.1 L863.10 538.4 L864.33 535.3 L865.55 532.2 L869.22 512.4 L870.45 505.8 L871.67 540.7 L872.90 547.7 L874.12 554.7 L877.80 537.6 L879.02 515.9 L880.25 510.8 L881.47 505.8 L882.69 507.4 L886.37 512.0 L887.59 521.0 L888.82 529.9 L890.04 568.7 L891.27 574.9 L894.94 593.6 L896.16 599.8 L897.39 610.1 L898.61 620.5 L899.84 630.8 L903.51 635.5 L904.74 647.9 L905.96 633.9 L907.19 620.0 L908.41 624.3 L912.08 637.0 L913.31 630.8 L914.53 650.2 L915.76 638.6 L916.98 626.9 L920.66 616.8 L921.88 603.9 L923.10 590.9 L924.33 578.0 L925.55 572.2 L929.23 554.7 L930.45 526.8 L931.68 526.0 L932.90 531.4 L934.13 530.6 L937.80 528.3 L939.02 528.7 L940.25 529.1 L941.47 550.1 L942.70 559.4 L946.37 563.3 L947.60 547.4 L948.82 531.4 L950.05 529.9 L951.27 540.7 L954.94 541.5 L956.17 545.0 L957.39 548.5 L958.62 548.5 L959.84 548.5 L963.52 554.7 L964.74 560.9 L967.19 565.6 L968.41 556.3 L972.09 561.7 L973.31 555.5 L974.54 553.5 L975.76 551.6 L976.99 557.8 L980.66 562.5 L981.88 545.4 L983.11 548.5 L984.33 629.6 L985.56 637.8 L989.23 662.2 L990.46 666.3 L991.68 662.5 L992.90 658.7 L1006.37 694.2 L1007.60 679.7 L1008.82 690.2 L1010.05 689.3 L1011.27 688.4 L1014.95 657.4 L1016.17 647.1 L1017.40 659.9 L1018.62 672.7 L1019.85 685.5 L1023.52 680.3 L1024.74 659.3 L1025.97 638.4 L1027.19 617.4 L1028.42 618.0 L1032.09 654.2 L1033.32 666.3 L1034.54 554.7 L1035.76 553.2 L1036.99 522.1 L1040.66 519.0 L1041.89 529.9 L1043.11 470.0 L1044.34 445.1 L1045.56 445.1 L1049.23 456.8 L1050.46 394.7 L1051.68 382.0 L1052.91 369.4 L1054.13 358.5 L1057.81 325.8 L1059.03 323.8 L1060.26 364.6 L1061.48 340.8 L1062.70 317.0 L1066.38 293.7 L1067.60 251.1 L1068.83 293.7 L1070.05 348.1 L1071.28 340.3 L1074.95 352.0 L1076.17 367.5 L1077.40 400.5 L1078.62 406.3 L1079.85 439.3 L1084.75 460.7 L1085.97 448.0 L1087.20 491.1 L1088.42 488.0 L1092.09 488.0 L1093.32 522.1 L1094.54 542.3 L1095.77 550.9 L1096.99 559.4 L1100.67 584.2 L1101.89 595.1 L1103.12 599.7 L1104.34 604.4 L1105.56 578.8 L1109.24 593.5 L1110.46 609.1 L1111.69 590.4 L1112.91 599.8 L1120.26 613.7 L1121.48 619.1 L1122.71 628.4 L1126.38 653.8 L1127.61 662.2 L1128.83 667.4 L1130.06 672.7 L1131.28 670.4 L1134.95 663.4 L1136.18 659.3 L1137.40 655.2 L1138.63 616.8 L1139.85 593.5 L1143.53 596.6 L1144.75 596.6 L1145.97 578.7 L1147.20 560.9 L1148.42 565.6 L1152.10 540.7 L1153.32 525.2 L1154.55 497.3 L1155.77 496.5 L1157.00 495.7 L1160.67 496.5 L1161.89 482.5 L1163.12 477.1 L1164.34 463.1 L1165.57 466.2 L1169.24 469.7 L1170.47 470.9 L1171.69 491.1 L1172.92 475.5 L1174.14 498.8 L1177.81 526.8 L1179.04 559.4 L1180.26 560.9 L1186.39 561.7 L1187.61 581.1 L1188.83 571.8 L1190.06 581.1 L1191.28 591.2 L1194.96 624.9 L1196.18 626.1 L1197.41 648.2 L1198.63 651.0 L1199.86 653.8 L1203.53 662.2 L1204.75 624.9 L1205.98 587.5 L1207.20 550.1 L1208.43 551.6 L1212.10 554.7 L1213.33 551.6 L1214.55 567.1 L1215.77 547.7 L1217.00 528.3 L1220.67 519.0 L1221.90 501.9 L1223.12 545.4 L1224.35 550.8 L1225.57 556.3 L1229.24 511.2 L1230.47 512.8 L1231.69 514.3 L1232.92 495.7 L1234.14 470.0 L1237.82 451.0 L1239.04 452.9 L1240.27 467.4 L1241.49 482.0 L1242.71 512.8 L1246.39 511.2 L1247.61 469.4 L1248.84 427.7 L1250.06 442.2 L1251.29 456.8 L1254.96 462.6 L1256.19 439.0 L1257.41 415.4 L1258.63 391.8 L1259.86 400.5 L1263.53 400.5 L1264.76 415.0 L1265.98 387.2 L1267.21 359.4 L1268.43 331.6 L1272.10 334.5 L1273.33 294.7 L1274.55 313.6 L1275.78 332.6 L1277.00 317.0 L1280.68 308.3 L1281.90 324.8 L1283.13 352.0 L1284.35 363.6 L1285.57 375.3 L1289.25 379.1 L1290.47 377.2 L1291.70 414.1 L1292.92 456.8 L1294.15 461.6 L1297.82 462.6 L1299.04 475.5 L1300.27 505.0 L1311.29 512.8 L1314.96 522.1 L1316.19 561.7 L1317.41 601.3 L1318.64 591.2 L1319.86 581.1 L1323.54 576.5 L1324.76 563.3 L1325.99 550.1 L1327.21 548.5 L1328.43 547.0 L1332.11 512.8 L1333.33 511.3 L1334.56 509.7 L1335.78 536.1 L1337.01 531.4 L1340.68 493.4 L1341.90 497.2 L1343.13 501.1 L1344.35 500.4 L1345.58 509.3 L1349.25 536.1 L1350.48 521.0 L1351.70 505.8 L1352.93 521.0 L1354.15 536.1 L1357.82 537.6 L1359.05 547.0 L1360.27 524.4 L1361.50 567.1 L1362.72 570.0 L1366.40 578.8 L1367.62 567.1 L1368.84 560.9 L1370.07 543.5 L1371.29 526.0 L1374.97 541.5 L1376.19 537.2 L1377.42 533.0 L1378.64 534.9 L1379.87 536.7 L1383.54 542.3 L1384.76 568.7 L1385.99 593.5 L1387.21 604.4 L1388.44 606.7 L1392.11 613.7 L1393.34 684.5 L1394.56 667.8 L1395.78 651.0 L1397.01 684.5 L1400.68 698.4 L1401.91 703.1 L1403.13 753.4 L1404.36 743.1 L1405.58 732.9 L1409.26 762.7 L1410.48 745.9 L1411.70 762.7 L1412.93 766.4 L1417.83 781.3 L1419.05 807.4 L1420.28 839.0 L1421.50 870.7 L1422.73 859.5 L1426.40 921.0 L1427.62 941.5 L1428.85 878.1 L1430.07 814.8 L1431.30 808.3 L1434.97 788.8 L1436.20 744.1 L1437.42 699.4 L1438.64 705.0 L1439.87 710.6 L1443.54 757.1 L1444.77 691.9 L1445.99 703.1 L1447.22 632.3 L1448.44 639.8 L1452.11 630.8 L1453.34 588.1 L1454.56 545.4 L1455.79 539.2 L1457.01 530.4 L1460.69 511.8 L1461.91 458.4 L1463.14 456.1 L1472.93 437.6 L1474.16 470.8 L1477.83 433.5 L1479.06 511.2 L1480.28 443.2 L1481.50 375.3 L1482.73 368.0 L1486.40 346.2 L1487.63 373.4 L1488.85 400.5 L1490.08 427.7 L1491.30 402.5 L1494.97 326.7 L1496.20 301.5 L1497.42 319.0 L1498.65 319.0 L1499.87 319.0 L1503.55 295.7 L1504.77 264.6 L1506.00 263.7 L1507.22 317.0 L1508.44 379.1 L1512.12 411.1 L1513.34 421.8 L1514.57 443.3 L1515.79 464.7 L1517.02 511.2 L1520.69 519.3 L1521.91 531.7 L1523.14 504.3 L1524.36 547.0 L1525.59 584.2 L1530.49 587.3 L1531.71 585.8 L1532.94 579.0 L1534.16 572.1 L1537.83 551.6 L1539.06 582.7 L1540.28 564.8 L1541.51 547.0 L1542.73 529.1 L1546.41 557.8 L1547.63 562.5 L1548.85 569.2 L1550.08 576.0 L1551.30 582.7 L1554.98 560.6 L1556.20 553.2 L1557.43 556.3 L1558.65 559.4 L1559.88 555.2 L1567.22 529.9 L1568.45 531.4 L1572.12 517.5 L1573.35 533.0 L1574.57 548.5 L1575.80 543.1 L1577.02 537.6 L1580.69 579.6 L1581.92 594.4 L1583.14 609.1 L1584.37 590.4 L1585.59 571.8 L1589.27 556.3 L1590.49 576.5 L1591.71 540.7 L1592.94 541.5 L1594.16 542.3 L1597.84 519.9 L1599.06 512.5 L1600.29 505.0 L1601.51 550.1 L1602.74 557.1 L1606.41 578.0 L1607.63 565.6 L1608.86 553.2 L1610.08 568.7 L1611.31 562.2 L1616.21 536.1 L1617.43 522.1 L1618.65 545.4 L1619.88 528.3 L1623.55 562.5 L1624.78 547.7 L1626.00 533.0 L1627.23 534.6 L1628.45 536.1 L1632.13 524.4 L1633.35 541.9 L1634.57 559.4 L1635.80 544.7 L1637.02 529.9 L1640.70 506.6 L1641.92 498.8 L1643.15 522.1 L1644.37 545.4 L1645.60 529.9 L1649.27 543.9 L1650.49 533.0 L1651.72 522.1 L1652.94 511.2 L1654.17 508.5 L1657.84 500.4 L1659.07 512.8 L1660.29 499.6 L1661.51 486.4 L1662.74 483.9 L1666.41 476.3 L1667.64 492.2 L1668.86 508.1 L1670.09 509.7 L1671.31 511.2 L1674.98 540.7 L1676.21 548.0 L1677.43 555.2 L1678.66 562.5 L1679.88 559.8 L1683.56 551.6 L1684.78 522.9 L1686.01 527.9 L1687.23 533.0 L1688.45 531.8 L1692.13 528.3 L1693.35 520.5 L1694.58 512.8 L1695.80 579.6 L1697.03 576.1 L1700.70 565.6 L1701.92 522.1 L1703.15 478.6 L1704.37 528.3 L1705.60 529.1 L1709.27 531.4 L1710.50 511.2 L1711.72 498.8 L1712.95 486.4 L1714.17 490.3 L1717.84 501.9 L1719.07 537.6 L1720.29 502.7 L1721.52 550.1 L1722.74 528.3 L1726.42 528.3 L1727.64 573.4 L1728.87 542.0 L1730.09 510.5 L1731.31 522.1 L1737.44 534.5 L1738.66 568.7 L1739.89 646.6 L1743.56 678.2 L1744.78 644.7 L1746.01 635.4 L1747.23 626.1 L1757.03 644.7 L1760.70 644.7 L1761.93 665.2 L1763.15 674.5 L1764.38 644.7 L1765.60 691.3 L1769.28 683.8 L1770.50 659.6 L1771.72 710.8 L1772.95 676.4 L1774.17 699.7 L1777.85 769.5 L1779.07 752.7 L1780.30 773.2 L1781.52 793.7 L1782.75 747.1 L1786.42 698.7 L1787.64 743.4 L1788.87 719.2 L1790.09 725.7 L1791.32 732.2 L1794.99 707.1 L1796.22 698.7 L1797.44 663.3 L1798.67 655.9 L1799.89 627.9 L1803.56 604.4 L1804.79 565.6 L1806.01 587.3 L1807.24 543.9 L1808.46 553.2 L1812.14 568.7 L1813.36 535.3 L1814.58 501.9 L1815.81 506.5 L1817.03 511.2 L1820.71 550.1 L1821.93 507.3 L1823.16 464.5 L1824.38 476.3 L1825.61 488.0 L1829.28 525.2 L1830.50 551.6 L1831.73 578.0 L1832.95 571.8 L1834.18 565.6 L1837.85 616.8 L1839.08 581.9 L1840.30 547.0 L1841.52 525.2 L1842.75 503.5 L1846.42 401.9 L1847.65 437.2 L1848.87 472.5 L1850.10 461.7 L1851.32 450.8 L1854.99 429.8 L1856.22 445.0 L1857.44 488.0 L1858.67 455.0 L1859.89 460.1 L1864.79 396.5 L1866.02 321.9 L1867.24 320.7 L1868.47 319.6 L1872.14 334.3 L1873.36 312.6 L1874.59 335.9 L1875.81 334.3 L1877.04 370.1 L1880.71 379.4 L1881.94 457.0 L1883.16 457.0 L1884.38 425.5 L1885.61 394.1 L1889.28 408.9 L1890.51 413.5 L1891.73 418.2 L1892.96 438.4 L1894.18 422.9 L1906.43 419.0 L1907.65 443.0 L1908.88 477.1 L1910.10 511.2 L1911.32 529.9 L1915.00 515.9 L1916.22 550.1 L1917.45 551.6 L1918.67 602.9 L1919.90 571.8 L1923.57 584.2 L1924.79 562.5 L1926.02 643.2 L1927.24 616.8 L1928.47 625.3 L1932.14 651.0 L1933.37 615.3 L1934.59 579.6 L1935.82 618.4 L1937.04 609.8 L1940.71 584.2 L1941.94 627.7 L1943.16 610.6 L1944.39 593.5 L1945.61 616.8 L1949.29 593.5 L1950.51 618.4 L1951.74 591.2 L1952.96 564.0 L1954.18 561.3 L1957.86 553.2 L1959.08 506.6 L1960.31 512.1 L1961.53 517.5 L1962.76 498.9 L1966.43 443.0 L1967.65 523.7 L1968.88 505.9 L1970.10 488.0 L1971.33 475.7 L1977.45 464.0 L1978.68 474.1 L1979.90 460.5 L1983.57 419.8 L1984.80 418.2 L1986.02 417.4 L1987.25 416.6 L1988.47 429.1 L1992.15 413.5 L1993.37 460.1 L1994.59 450.8 L1995.82 441.5 L1997.04 432.2 L2000.72 429.1 L2001.94 506.6 L2003.17 534.6 L2004.39 562.5 L2005.62 547.0 L2012.96 596.6 L2014.19 574.9 L2017.86 593.5 L2019.09 581.1 L2020.31 598.7 L2021.54 616.3 L2022.76 633.9 L2026.43 633.9 L2027.66 647.9 L2028.88 596.6 L2030.11 618.3 L2031.33 640.1 L2035.01 637.0 L2036.23 647.1 L2037.45 657.2 L2038.68 639.5 L2039.90 621.8 L2043.58 568.7 L2044.80 467.8 L2046.03 446.1 L2047.25 452.9 L2052.15 480.0 L2053.37 506.5 L2054.60 532.9 L2055.82 559.4 L2057.05 595.1 L2060.72 596.2 L2061.95 596.6 L2063.17 608.5 L2064.39 620.5 L2065.62 632.4 L2069.29 616.8 L2070.52 607.5 L2071.74 598.2 L2072.97 588.9 L2074.19 579.6 L2077.86 582.7 L2079.09 585.0 L2080.31 641.5 L2081.54 698.0 L2082.76 699.7 L2086.44 704.9 L2087.66 690.0 L2088.89 632.0 L2090.11 573.0 L2091.34 555.9 L2095.01 551.0 L2096.23 525.4 L2097.46 524.6 L2098.68 519.2 L2099.91 513.7 L2103.58 497.4 L2104.81 514.9 L2106.03 532.4 L2107.25 526.0 L2108.48 519.6 L2112.15 500.5 L2113.38 525.4 L2114.60 460.9 L2115.83 441.5 L2117.05 422.1 L2120.72 412.8 L2121.95 437.6 L2123.17 415.9 L2124.40 394.2 L2125.62 443.9 L2129.30 425.2 L2130.52 403.5 L2131.75 388.0 L2132.97 422.1 L2134.19 426.8 L2137.87 451.6 L2139.09 443.9 L2140.32 427.6 L2141.54 411.2 L2142.77 453.2 L2146.44 465.6 L2147.66 444.6 L2148.89 484.2 L2150.11 543.2 L2151.34 540.1 L2155.01 530.8 L2156.24 499.8 L2157.46 559.0 L2158.69 529.4 L2159.91 499.8 L2163.58 543.5 L2164.81 547.3 L2166.03 551.0 L2167.26 568.3 L2168.48 564.6 L2173.38 549.7 L2174.61 552.8 L2175.83 597.8 L2177.05 595.9 L2180.73 590.1 L2181.95 546.6 L2183.18 556.7 L2184.40 566.8 L2185.63 559.0 L2189.30 562.1 L2190.52 565.2 L2191.75 568.3 L2192.97 573.8 L2194.20 579.2 L2206.44 619.6 L2207.67 583.9 L2208.89 593.2 L2210.12 602.5 L2211.34 579.5 L2215.02 510.6 L2216.24 547.9 L2217.46 527.0 L2218.69 506.0 L2219.91 508.3 L2223.59 515.3 L2224.81 523.8 L2226.04 532.4 L2227.26 518.4 L2228.49 504.4 L2232.16 462.5 L2233.38 487.3 L2234.61 464.8 L2235.83 442.3 L2237.06 465.6 L2240.73 450.8 L2241.96 460.9 L2243.18 457.1 L2244.41 453.2 L2245.63 460.0 L2249.30 480.5 L2250.53 487.3 L2251.75 474.9 L2252.98 462.5 L2254.20 471.8 L2257.88 467.1 L2259.10 485.0 L2260.32 502.9 L2261.55 495.1 L2262.77 487.3 L2266.45 538.6 L2267.67 550.4 L2268.90 562.1 L2270.12 537.2 L2271.35 512.3 L2275.02 560.0 L2276.24 579.9 L2277.47 599.7 L2278.69 619.6 L2279.92 619.6 L2283.59 614.9 L2284.82 613.4 L2286.04 643.6 L2287.26 673.9 L2288.49 673.6 L2292.16 672.7 L2293.39 672.4 L2294.61 644.4 L2295.84 639.1 L2297.06 633.8 L2300.73 618.0 L2301.96 628.4 L2303.18 638.7 L2304.41 649.1 L2305.63 644.4 L2310.53 566.8 L2311.76 566.8 L2312.98 589.3 L2314.20 611.8 L2317.88 588.5 L2319.10 607.2 L2320.33 625.8 L2321.55 636.6 L2322.78 647.5 L2326.45 599.4 L2327.68 597.9 L2328.90 596.3 L2330.12 604.8 L2331.35 613.4 L2343.59 604.0 L2344.82 568.3 L2346.04 553.5 L2347.27 538.8 L2348.49 538.6 L2352.17 538.0 L2353.39 553.9 L2354.62 569.9 L2355.84 552.8 L2357.06 535.7 L2360.74 552.8 L2361.96 537.2 L2363.19 521.6 L2364.41 549.7 L2365.64 532.5 L2369.31 550.0 L2370.53 555.9 L2371.76 548.6 L2372.98 541.3 L2374.21 534.0 L2377.88 568.3 L2379.11 562.1 L2380.33 580.8 L2381.56 599.4 L2382.78 608.1 L2386.45 634.2 L2387.68 642.9 L2388.90 597.8 L2390.13 595.5 L2391.35 593.2 L2395.03 582.7 L2396.25 579.2 L2397.48 573.0 L2398.70 566.7 L2399.92 560.5 L2403.60 541.8 L2404.82 566.8 L2406.05 565.5 L2407.27 564.2 L2408.50 562.9 L2412.17 559.0 L2413.39 593.2 L2414.62 580.8 L2415.84 568.3 L2417.07 565.6 L2420.74 557.5 L2421.97 604.0 L2424.42 613.3 L2425.64 618.0 L2429.31 628.9 L2430.54 554.2 L2431.76 562.0 L2432.99 569.9 L2434.21 577.3 L2437.89 599.4 L2439.11 603.3 L2440.33 607.1 L2441.56 630.4 L2442.78 627.7 L2446.46 619.6 L2447.68 627.9 L2448.91 636.1 L2450.13 644.4 L2451.36 569.9 L2458.70 582.3 L2459.93 568.3 L2463.60 552.8 L2464.83 582.3 L2466.05 560.5 L2467.27 538.7 L2468.50 544.2 L2472.17 587.3 L2473.40 601.7 L2474.62 508.5 L2475.85 502.3 L2477.07 513.2 L2480.75 531.8 L2481.97 538.0 L2483.19 486.8 L2484.42 465.0 L2485.64 464.8 L2489.32 464.3 L2490.54 454.9 L2491.77 480.9 L2492.99 507.0 L2494.22 538.0 L2497.89 519.4 L2499.11 498.5 L2500.34 477.5 L2501.56 516.3 L2502.79 519.4 L2506.46 507.2 L2507.69 503.1 L2508.91 547.3 L2510.13 586.1 L2511.36 584.4 L2515.03 579.2 L2516.26 589.7 L2517.48 600.1 L2523.60 618.8 L2524.83 604.0 L2526.05 589.3 L2527.28 574.5 L2528.50 578.6 L2532.18 590.8 L2533.40 559.8 L2534.63 554.4 L2535.85 548.9 L2537.07 584.6 L2540.75 593.9 L2541.97 596.0 L2543.20 598.0 L2544.42 600.1 L2545.65 566.0 L2549.32 540.3 L2550.55 531.8 L2551.77 534.9 L2552.99 538.0 L2554.22 531.8 L2557.89 510.8 L2559.12 548.5 L2560.34 586.1 L2561.57 584.5 L2562.79 583.0 L2566.46 568.3 L2567.69 566.3 L2568.91 564.4 L2570.14 603.2 L2571.36 603.2 L2575.04 603.2 L2576.26 612.5 L2577.49 606.3 L2578.71 600.1 L2579.93 614.1 L2583.61 609.4 L2584.83 615.7 L2586.06 590.1 L2587.28 564.4 L2588.51 564.4 L2592.18 566.7 L2593.40 553.5 L2594.63 559.4 L2595.85 565.2 L2597.08 552.0 L2600.75 545.8 L2601.98 526.6 L2603.20 507.5 L2604.43 488.3 L2605.65 482.1 L2609.32 482.1 L2610.55 478.2 L2611.77 474.3 L2613.00 485.2 L2614.22 490.7 L2617.90 507.0 L2619.12 516.3 L2620.34 525.6 L2621.57 543.4 L2622.79 561.3 L2626.47 552.0 L2627.69 564.4 L2628.92 576.8 L2630.14 559.7 L2631.37 542.7 L2635.04 569.1 L2636.26 578.0 L2637.49 612.0 L2638.71 613.0 L2652.18 626.4 L2653.41 604.1 L2654.63 628.0 L2655.86 652.0 L2657.08 650.0 L2660.76 647.4 L2661.98 646.5 L2663.20 629.0 L2664.43 609.2 L2665.65 589.5 L2669.33 603.0 L2670.55 571.5 L2671.78 540.0 L2673.00 564.4 L2674.23 567.1 L2677.90 575.3 L2679.12 548.9 L2680.35 540.3 L2681.57 531.8 L2682.80 552.0 L2686.47 513.2 L2687.70 513.2 L2688.92 495.4 L2690.14 477.5 L2691.37 474.3 L2695.04 477.5 L2696.27 473.6 L2697.49 469.7 L2698.72 480.6 L2699.94 471.2 L2703.62 455.7 L2704.84 484.5 L2706.06 513.2 L2707.29 485.2 L2708.51 485.6 L2712.19 486.8 L2713.41 503.1 L2714.64 519.4 L2715.86 514.7 L2717.09 510.1 L2720.76 511.6 L2721.98 507.8 L2723.21 503.9 L2724.43 559.8 L2725.66 564.1 L2729.33 576.8 L2730.56 530.2 L2731.78 527.4 L2733.00 524.5 L2734.23 521.7 L2737.90 527.1 L2739.13 510.1 L2740.35 509.3 L2741.58 508.5 L2742.80 544.2 L2746.47 568.4 L2747.70 576.5 L2748.92 584.6 L2750.15 570.6 L2751.37 556.6 L2756.27 547.3 L2757.50 562.9 L2758.72 541.1 L2759.94 519.4 L2763.62 479.8 L2764.84 466.6 L2766.07 506.2 L2767.29 545.8 L2768.52 545.2 L2772.19 556.6 L2773.41 566.0 L2774.64 581.9 L2775.86 597.8 L2777.09 613.7 L2780.76 603.9 L2781.99 623.5 L2783.21 564.0 L2784.44 504.5 L2785.66 514.7 L2789.33 545.2 L2790.56 617.0 L2791.78 670.0 L2793.01 722.0 L2794.23 773.0 L2797.91 960.0 L2799.13 1150.0 L2800.36 1384.0 L2801.58 1218.0" fill="none" stroke="#00bfbf" stroke-width="3.75" stroke-linejoin="round" stroke-linecap="square"/>
<path d="M405.0 543.9H2916.0" stroke="#ff0000" stroke-width="3.75" stroke-dasharray="13.875 6"/>
<rect x="405.0" y="194.4" width="2511.0" height="1247.3999999999999" fill="none" stroke="#000" stroke-width="2"/>
<path d="M396.25 240.00H405.0 M396.25 429.00H405.0 M396.25 618.00H405.0 M396.25 807.00H405.0 M396.25 996.00H405.0 M396.25 1185.00H405.0 M396.25 1374.00H405.0 M519.00 1441.8V1450.55 M965.96 1441.8V1450.55 M1414.15 1441.8V1450.55 M1861.12 1441.8V1450.55 M2308.08 1441.8V1450.55 M2755.05 1441.8V1450.55" stroke="#000" stroke-width="2"/>
<text transform="scale(0.86 1)" y="248.90" text-anchor="middle" ><tspan x="399.42" y="248.90" font-size="24.9">0</tspan><tspan x="410.32" y="248.90" font-size="24.9">.</tspan><tspan x="443.02" y="248.90" font-size="24.9">0</tspan></text><path d="M369.53 231.77 L369.53 248.90 L367.47 248.90 L367.47 234.68 L364.05 237.59 L364.05 235.71 L368.16 231.77Z" fill="#000"/>
<text transform="scale(0.86 1)" y="437.90" text-anchor="middle" ><tspan x="399.42" y="437.90" font-size="24.9">0</tspan><tspan x="410.32" y="437.90" font-size="24.9">.</tspan><tspan x="428.49" y="437.90" font-size="24.9">0</tspan><tspan x="443.02" y="437.90" font-size="24.9">5</tspan></text>
<text transform="scale(0.86 1)" y="626.90" text-anchor="middle" ><tspan x="399.42" y="626.90" font-size="24.9">0</tspan><tspan x="410.32" y="626.90" font-size="24.9">.</tspan><tspan x="428.49" y="626.90" font-size="24.9">0</tspan><tspan x="443.02" y="626.90" font-size="24.9">0</tspan></text>
<text transform="scale(0.86 1)" y="815.90" text-anchor="middle" ><tspan x="384.88" y="814.40" font-size="24.9">−</tspan><tspan x="399.42" y="815.90" font-size="24.9">0</tspan><tspan x="410.32" y="815.90" font-size="24.9">.</tspan><tspan x="428.49" y="815.90" font-size="24.9">0</tspan><tspan x="443.02" y="815.90" font-size="24.9">5</tspan></text>
<text transform="scale(0.86 1)" y="1004.90" text-anchor="middle" ><tspan x="384.88" y="1003.40" font-size="24.9">−</tspan><tspan x="399.42" y="1004.90" font-size="24.9">0</tspan><tspan x="410.32" y="1004.90" font-size="24.9">.</tspan><tspan x="443.02" y="1004.90" font-size="24.9">0</tspan></text><path d="M369.53 987.77 L369.53 1004.90 L367.47 1004.90 L367.47 990.68 L364.05 993.59 L364.05 991.71 L368.16 987.77Z" fill="#000"/>
<text transform="scale(0.86 1)" y="1193.90" text-anchor="middle" ><tspan x="384.88" y="1192.40" font-size="24.9">−</tspan><tspan x="399.42" y="1193.90" font-size="24.9">0</tspan><tspan x="410.32" y="1193.90" font-size="24.9">.</tspan><tspan x="443.02" y="1193.90" font-size="24.9">5</tspan></text><path d="M369.53 1176.77 L369.53 1193.90 L367.47 1193.90 L367.47 1179.68 L364.05 1182.59 L364.05 1180.71 L368.16 1176.77Z" fill="#000"/>
<text transform="scale(0.86 1)" y="1382.90" text-anchor="middle" ><tspan x="384.88" y="1381.40" font-size="24.9">−</tspan><tspan x="399.42" y="1382.90" font-size="24.9">0</tspan><tspan x="410.32" y="1382.90" font-size="24.9">.</tspan><tspan x="428.49" y="1382.90" font-size="24.9">2</tspan><tspan x="443.02" y="1382.90" font-size="24.9">0</tspan></text>
<text transform="scale(0.86 1)" y="1475.90" text-anchor="middle" ><tspan x="581.69" y="1475.90" font-size="24.9">2</tspan><tspan x="596.22" y="1475.90" font-size="24.9">0</tspan><tspan x="625.29" y="1475.90" font-size="24.9">9</tspan></text><path d="M526.28 1458.77 L526.28 1475.90 L524.22 1475.90 L524.22 1461.68 L520.80 1464.59 L520.80 1462.71 L524.91 1458.77Z" fill="#000"/>
<text transform="scale(0.86 1)" y="1475.90" text-anchor="middle" ><tspan x="1101.41" y="1475.90" font-size="24.9">2</tspan><tspan x="1115.95" y="1475.90" font-size="24.9">0</tspan><tspan x="1130.48" y="1475.90" font-size="24.9">2</tspan><tspan x="1145.02" y="1475.90" font-size="24.9">0</tspan></text>
<text transform="scale(0.86 1)" y="1475.90" text-anchor="middle" ><tspan x="1622.56" y="1475.90" font-size="24.9">2</tspan><tspan x="1637.10" y="1475.90" font-size="24.9">0</tspan><tspan x="1651.63" y="1475.90" font-size="24.9">2</tspan></text><path d="M1433.93 1458.77 L1433.93 1475.90 L1431.88 1475.90 L1431.88 1461.68 L1428.45 1464.59 L1428.45 1462.71 L1432.56 1458.77Z" fill="#000"/>
<text transform="scale(0.86 1)" y="1475.90" text-anchor="middle" ><tspan x="2142.29" y="1475.90" font-size="24.9">2</tspan><tspan x="2156.82" y="1475.90" font-size="24.9">0</tspan><tspan x="2171.36" y="1475.90" font-size="24.9">2</tspan><tspan x="2185.89" y="1475.90" font-size="24.9">2</tspan></text>
<text transform="scale(0.86 1)" y="1475.90" text-anchor="middle" ><tspan x="2662.01" y="1475.90" font-size="24.9">2</tspan><tspan x="2676.55" y="1475.90" font-size="24.9">0</tspan><tspan x="2691.08" y="1475.90" font-size="24.9">2</tspan><tspan x="2705.62" y="1475.90" font-size="24.9">3</tspan></text>
<text transform="scale(0.86 1)" y="1475.90" text-anchor="middle" ><tspan x="3181.74" y="1475.90" font-size="24.9">2</tspan><tspan x="3196.28" y="1475.90" font-size="24.9">0</tspan><tspan x="3210.81" y="1475.90" font-size="24.9">2</tspan><tspan x="3225.34" y="1475.90" font-size="24.9">4</tspan></text>
<text transform="scale(0.86 1)" y="177.90" text-anchor="middle" ><tspan x="1429.39" y="177.90" font-size="30.94" stroke="#000" stroke-width="0.5">a</tspan><tspan x="1451.19" y="177.90" font-size="35.02" stroke="#000" stroke-width="0.5">l</tspan><tspan x="1472.99" y="177.90" font-size="30.94" stroke="#000" stroke-width="0.5">p</tspan><tspan x="1494.80" y="177.90" font-size="35.02" stroke="#000" stroke-width="0.5">h</tspan><tspan x="1516.60" y="177.90" font-size="30.94" stroke="#000" stroke-width="0.5">a</tspan><tspan x="1560.20" y="177.90" font-size="30.94" stroke="#000" stroke-width="0.5">c</tspan><tspan x="1582.01" y="177.90" font-size="30.94" stroke="#000" stroke-width="0.5">u</tspan><tspan x="1603.81" y="177.90" font-size="30.94" stroke="#000" stroke-width="0.5">m</tspan><tspan x="1647.41" y="177.90" font-size="30.94" stroke="#000" stroke-width="0.5">r</tspan><tspan x="1669.22" y="177.90" font-size="30.94" stroke="#000" stroke-width="0.5">e</tspan><tspan x="1691.02" y="177.90" font-size="35.02" stroke="#000" stroke-width="0.5">t</tspan><tspan x="1734.62" y="177.90" font-size="30.94" stroke="#000" stroke-width="0.5">r</tspan><tspan x="1756.42" y="177.90" font-size="30.94" stroke="#000" stroke-width="0.5">o</tspan><tspan x="1778.23" y="177.90" font-size="35.02" stroke="#000" stroke-width="0.5">l</tspan><tspan x="1800.03" y="177.90" font-size="35.02" stroke="#000" stroke-width="0.5">l</tspan><tspan x="1821.83" y="177.90" font-size="30.94" stroke="#000" stroke-width="0.5">i</tspan><tspan x="1843.63" y="177.90" font-size="30.94" stroke="#000" stroke-width="0.5">n</tspan><tspan x="1865.44" y="177.90" font-size="30.94" stroke="#000" stroke-width="0.5">g</tspan><tspan x="1909.04" y="177.90" font-size="37.6">2</tspan><tspan x="1930.84" y="177.90" font-size="37.6">0</tspan><tspan x="1952.65" y="177.90" font-size="35.02" stroke="#000" stroke-width="0.5">d</tspan><tspan x="1974.45" y="177.90" font-size="37.6">:</tspan><tspan x="2021.76" y="177.90" font-size="37.6">(</tspan><tspan x="2039.85" y="177.90" font-size="37.6">2</tspan><tspan x="2061.66" y="177.90" font-size="37.6">0</tspan><tspan x="2105.26" y="177.90" font-size="37.6">9</tspan><tspan x="2127.06" y="177.90" font-size="37.6">0</tspan><tspan x="2170.67" y="177.90" font-size="37.6">0</tspan><tspan x="2192.47" y="177.90" font-size="37.6">2</tspan><tspan x="2208.82" y="177.90" font-size="37.6">,</tspan><tspan x="2257.88" y="177.90" font-size="37.6">2</tspan><tspan x="2279.68" y="177.90" font-size="37.6">0</tspan><tspan x="2301.48" y="177.90" font-size="37.6">2</tspan><tspan x="2323.28" y="177.90" font-size="37.6">4</tspan><tspan x="2345.09" y="177.90" font-size="37.6">0</tspan><tspan x="2366.89" y="177.90" font-size="37.6">2</tspan><tspan x="2388.69" y="177.90" font-size="37.6">0</tspan><tspan x="2410.49" y="177.90" font-size="37.6">8</tspan><tspan x="2428.59" y="177.90" font-size="37.6">)</tspan></text><path d="M1793.33 152.03 L1793.33 177.90 L1790.22 177.90 L1790.22 156.43 L1785.05 160.83 L1785.05 157.98 L1791.26 152.03ZM1849.58 152.03 L1849.58 177.90 L1846.47 177.90 L1846.47 156.43 L1841.30 160.83 L1841.30 157.98 L1847.51 152.03Z" fill="#000"/>
<rect x="423.75" y="1307.5" width="1466.6" height="116.2" rx="7.5" ry="7.5" fill="#fff" fill-opacity="0.8" stroke="#cccccc" stroke-opacity="0.8" stroke-width="2"/>
<path d="M438.75 1336.0H513.75" stroke="#ff0000" stroke-width="3.75" stroke-dasharray="13.875 6"/>
<rect x="438.9" y="1377.1" width="75" height="25.5" fill="#1f77b4"/>
<text transform="scale(0.86 1)" y="1348.00" text-anchor="middle" ><tspan x="643.17" y="1348.00" font-size="30.94" stroke="#000" stroke-width="0.5">a</tspan><tspan x="664.97" y="1348.00" font-size="30.94" stroke="#000" stroke-width="0.5">v</tspan><tspan x="686.77" y="1348.00" font-size="30.94" stroke="#000" stroke-width="0.5">e</tspan><tspan x="708.58" y="1348.00" font-size="30.94" stroke="#000" stroke-width="0.5">r</tspan><tspan x="730.38" y="1348.00" font-size="30.94" stroke="#000" stroke-width="0.5">a</tspan><tspan x="752.18" y="1348.00" font-size="30.94" stroke="#000" stroke-width="0.5">g</tspan><tspan x="773.98" y="1348.00" font-size="30.94" stroke="#000" stroke-width="0.5">e</tspan><tspan x="817.59" y="1348.00" font-size="30.94" stroke="#000" stroke-width="0.5">c</tspan><tspan x="839.39" y="1348.00" font-size="30.94" stroke="#000" stroke-width="0.5">u</tspan><tspan x="861.19" y="1348.00" font-size="30.94" stroke="#000" stroke-width="0.5">m</tspan><tspan x="904.80" y="1348.00" font-size="37.6">2</tspan><tspan x="926.60" y="1348.00" font-size="37.6">0</tspan><tspan x="948.40" y="1348.00" font-size="35.02" stroke="#000" stroke-width="0.5">d</tspan><tspan x="992.01" y="1348.00" font-size="30.94" stroke="#000" stroke-width="0.5">r</tspan><tspan x="1013.81" y="1348.00" font-size="30.94" stroke="#000" stroke-width="0.5">e</tspan><tspan x="1035.61" y="1348.00" font-size="35.02" stroke="#000" stroke-width="0.5">t</tspan><tspan x="1057.41" y="1348.00" font-size="37.6">:</tspan><tspan x="1101.02" y="1348.00" font-size="37.6">0</tspan><tspan x="1117.37" y="1348.00" font-size="37.6">.</tspan><tspan x="1144.62" y="1348.00" font-size="37.6">0</tspan><tspan x="1188.23" y="1348.00" font-size="37.6">9</tspan><tspan x="1210.03" y="1348.00" font-size="37.6">4</tspan><tspan x="1226.38" y="1348.00" font-size="37.6">,</tspan><tspan x="1275.44" y="1348.00" font-size="35.02" stroke="#000" stroke-width="0.5">b</tspan><tspan x="1297.24" y="1348.00" font-size="35.02" stroke="#000" stroke-width="0.5">l</tspan><tspan x="1319.04" y="1348.00" font-size="30.94" stroke="#000" stroke-width="0.5">a</tspan><tspan x="1340.84" y="1348.00" font-size="30.94" stroke="#000" stroke-width="0.5">n</tspan><tspan x="1362.65" y="1348.00" font-size="35.02" stroke="#000" stroke-width="0.5">k</tspan><tspan x="1406.25" y="1348.00" font-size="30.94" stroke="#000" stroke-width="0.5">p</tspan><tspan x="1428.05" y="1348.00" font-size="30.94" stroke="#000" stroke-width="0.5">a</tspan><tspan x="1449.85" y="1348.00" font-size="30.94" stroke="#000" stroke-width="0.5">r</tspan><tspan x="1471.66" y="1348.00" font-size="35.02" stroke="#000" stroke-width="0.5">t</tspan><tspan x="1493.46" y="1348.00" font-size="30.94" stroke="#000" stroke-width="0.5">s</tspan><tspan x="1537.06" y="1348.00" font-size="30.94" stroke="#000" stroke-width="0.5">a</tspan><tspan x="1558.87" y="1348.00" font-size="30.94" stroke="#000" stroke-width="0.5">r</tspan><tspan x="1580.67" y="1348.00" font-size="30.94" stroke="#000" stroke-width="0.5">e</tspan><tspan x="1624.27" y="1348.00" font-size="35.02" stroke="#000" stroke-width="0.5">h</tspan><tspan x="1646.08" y="1348.00" font-size="30.94" stroke="#000" stroke-width="0.5">o</tspan><tspan x="1667.88" y="1348.00" font-size="35.02" stroke="#000" stroke-width="0.5">l</tspan><tspan x="1689.68" y="1348.00" font-size="30.94" stroke="#000" stroke-width="0.5">i</tspan><tspan x="1711.48" y="1348.00" font-size="35.02" stroke="#000" stroke-width="0.5">d</tspan><tspan x="1733.28" y="1348.00" font-size="30.94" stroke="#000" stroke-width="0.5">a</tspan><tspan x="1755.09" y="1348.00" font-size="30.94" stroke="#000" stroke-width="0.5">y</tspan><tspan x="1776.89" y="1348.00" font-size="30.94" stroke="#000" stroke-width="0.5">s</tspan></text><path d="M1004.68 1322.13 L1004.68 1348.00 L1001.57 1348.00 L1001.57 1326.53 L996.40 1330.93 L996.40 1328.08 L1002.61 1322.13Z" fill="#000"/>
<text transform="scale(0.86 1)" y="1401.80" text-anchor="middle" ><tspan x="643.17" y="1401.80" font-size="30.94" stroke="#000" stroke-width="0.5">r</tspan><tspan x="664.97" y="1401.80" font-size="30.94" stroke="#000" stroke-width="0.5">e</tspan><tspan x="686.77" y="1401.80" font-size="35.02" stroke="#000" stroke-width="0.5">t</tspan><tspan x="708.58" y="1401.80" font-size="37.6">_</tspan><tspan x="730.38" y="1401.80" font-size="30.94" stroke="#000" stroke-width="0.5">c</tspan><tspan x="752.18" y="1401.80" font-size="30.94" stroke="#000" stroke-width="0.5">u</tspan><tspan x="773.98" y="1401.80" font-size="30.94" stroke="#000" stroke-width="0.5">m</tspan><tspan x="795.78" y="1401.80" font-size="37.6">_</tspan><tspan x="817.59" y="1401.80" font-size="30.94" stroke="#000" stroke-width="0.5">r</tspan><tspan x="839.39" y="1401.80" font-size="30.94" stroke="#000" stroke-width="0.5">o</tspan><tspan x="861.19" y="1401.80" font-size="35.02" stroke="#000" stroke-width="0.5">l</tspan><tspan x="882.99" y="1401.80" font-size="35.02" stroke="#000" stroke-width="0.5">l</tspan><tspan x="904.80" y="1401.80" font-size="30.94" stroke="#000" stroke-width="0.5">i</tspan><tspan x="926.60" y="1401.80" font-size="30.94" stroke="#000" stroke-width="0.5">n</tspan><tspan x="948.40" y="1401.80" font-size="30.94" stroke="#000" stroke-width="0.5">g</tspan><tspan x="970.20" y="1401.80" font-size="37.6">_</tspan><tspan x="992.01" y="1401.80" font-size="37.6">2</tspan><tspan x="1013.81" y="1401.80" font-size="37.6">0</tspan><tspan x="1035.61" y="1401.80" font-size="35.02" stroke="#000" stroke-width="0.5">d</tspan><tspan x="1057.41" y="1401.80" font-size="37.6">:</tspan><tspan x="1079.22" y="1401.80" font-size="37.6">0</tspan><tspan x="1095.57" y="1401.80" font-size="37.6">.</tspan><tspan x="1122.82" y="1401.80" font-size="37.6">0</tspan><tspan x="1166.42" y="1401.80" font-size="37.6">9</tspan><tspan x="1188.23" y="1401.80" font-size="37.6">4</tspan><tspan x="1204.58" y="1401.80" font-size="37.6">,</tspan><tspan x="1253.63" y="1401.80" font-size="30.94" stroke="#000" stroke-width="0.5">m</tspan><tspan x="1275.44" y="1401.80" font-size="30.94" stroke="#000" stroke-width="0.5">a</tspan><tspan x="1297.24" y="1401.80" font-size="30.94" stroke="#000" stroke-width="0.5">x</tspan><tspan x="1319.04" y="1401.80" font-size="37.6">:</tspan><tspan x="1344.55" y="1401.80" font-size="37.6">(</tspan><tspan x="1362.65" y="1401.80" font-size="37.6">0</tspan><tspan x="1379.00" y="1401.80" font-size="37.6">.</tspan><tspan x="1406.25" y="1401.80" font-size="37.6">0</tspan><tspan x="1428.05" y="1401.80" font-size="37.6">9</tspan><tspan x="1449.85" y="1401.80" font-size="37.6">7</tspan><tspan x="1466.21" y="1401.80" font-size="37.6">,</tspan><tspan x="1493.46" y="1401.80" font-size="37.6">2</tspan><tspan x="1515.26" y="1401.80" font-size="37.6">0</tspan><tspan x="1537.06" y="1401.80" font-size="37.6">2</tspan><tspan x="1558.87" y="1401.80" font-size="37.6">0</tspan><tspan x="1580.67" y="1401.80" font-size="37.6">0</tspan><tspan x="1602.47" y="1401.80" font-size="37.6">3</tspan><tspan x="1624.27" y="1401.80" font-size="37.6">2</tspan><tspan x="1646.08" y="1401.80" font-size="37.6">4</tspan><tspan x="1664.17" y="1401.80" font-size="37.6">)</tspan><tspan x="1684.23" y="1401.80" font-size="37.6">,</tspan><tspan x="1733.28" y="1401.80" font-size="30.94" stroke="#000" stroke-width="0.5">m</tspan><tspan x="1755.09" y="1401.80" font-size="30.94" stroke="#000" stroke-width="0.5">i</tspan><tspan x="1776.89" y="1401.80" font-size="30.94" stroke="#000" stroke-width="0.5">n</tspan><tspan x="1798.69" y="1401.80" font-size="37.6">:</tspan><tspan x="1824.20" y="1401.80" font-size="37.6">(</tspan><tspan x="1842.30" y="1401.10" font-size="37.6">−</tspan><tspan x="1864.10" y="1401.80" font-size="37.6">0</tspan><tspan x="1880.45" y="1401.80" font-size="37.6">.</tspan><tspan x="1907.70" y="1401.80" font-size="37.6">2</tspan><tspan x="1929.51" y="1401.80" font-size="37.6">0</tspan><tspan x="1951.31" y="1401.80" font-size="37.6">3</tspan><tspan x="1967.66" y="1401.80" font-size="37.6">,</tspan><tspan x="1994.91" y="1401.80" font-size="37.6">2</tspan><tspan x="2016.72" y="1401.80" font-size="37.6">0</tspan><tspan x="2038.52" y="1401.80" font-size="37.6">2</tspan><tspan x="2060.32" y="1401.80" font-size="37.6">4</tspan><tspan x="2082.12" y="1401.80" font-size="37.6">0</tspan><tspan x="2103.92" y="1401.80" font-size="37.6">2</tspan><tspan x="2125.73" y="1401.80" font-size="37.6">0</tspan><tspan x="2147.53" y="1401.80" font-size="37.6">7</tspan><tspan x="2165.62" y="1401.80" font-size="37.6">)</tspan></text><path d="M985.93 1375.93 L985.93 1401.80 L982.82 1401.80 L982.82 1380.33 L977.65 1384.73 L977.65 1381.88 L983.86 1375.93Z" fill="#000"/>
</svg></body></html>
